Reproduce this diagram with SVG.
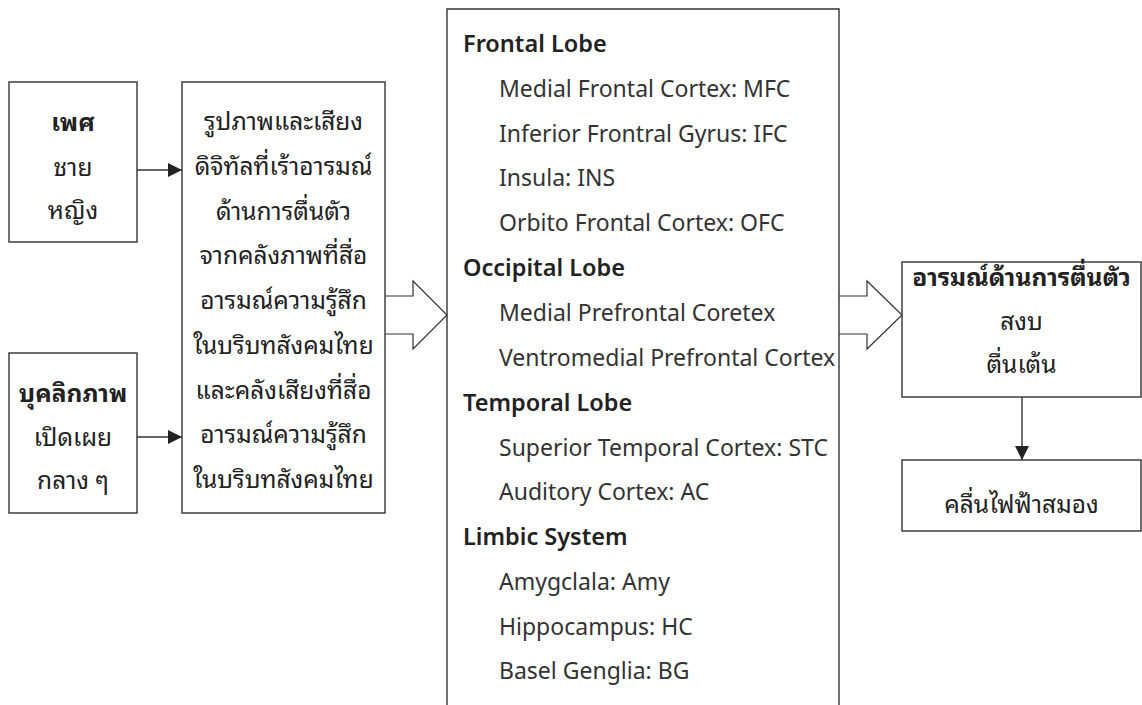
<svg xmlns="http://www.w3.org/2000/svg" width="1142" height="705" viewBox="0 0 1142 705">
  <style>
    .box { fill: #ffffff; stroke: #333333; stroke-width: 1.4; }
    .th { font-family: "Noto Sans Thai Looped", "Noto Sans Thai", "Noto Sans", sans-serif; font-size: 24.5px; fill: #222222; text-anchor: middle; }
    .thb { font-weight: bold; }
    .lobe { font-family: "Noto Sans", "Open Sans", sans-serif; font-size: 23.5px; font-weight: 600; fill: #222222; }
    .item { font-family: "Noto Sans", "Open Sans", sans-serif; font-size: 23px; fill: #333333; }
    .line { stroke: #333333; stroke-width: 1.4; fill: none; }
    .big { fill: #ffffff; stroke: #333333; stroke-width: 1.2; stroke-linejoin: miter; }
  </style>
  <defs>
    <marker id="tri" viewBox="0 0 10 10" refX="10" refY="5" markerWidth="14" markerHeight="14" markerUnits="userSpaceOnUse" orient="auto">
      <path d="M0,0 L10,5 L0,10 Z" fill="#222222"/>
    </marker>
  </defs>

  <rect width="1142" height="705" fill="#ffffff"/>

  <!-- connectors -->
  <g id="connectors">
    <line class="line" x1="137" y1="170" x2="182" y2="170" marker-end="url(#tri)"/>
    <line class="line" x1="137" y1="437" x2="182" y2="437" marker-end="url(#tri)"/>
    <path class="big" d="M385,296 H413 V281 L447,315 L413,349 V334 H385"/>
    <path class="big" d="M839,296 H867 V281 L902,315 L867,349 V334 H839"/>
    <line class="line" x1="1022" y1="397" x2="1022" y2="460" marker-end="url(#tri)"/>
  </g>

  <!-- gender -->
  <g id="node-gender">
    <rect class="box" x="9" y="82" width="128" height="160"/>
    <text class="th thb" x="73" y="131">เพศ</text>
    <text class="th" x="73" y="176">ชาย</text>
    <text class="th" x="73" y="219">หญิง</text>
  </g>

  <!-- personality -->
  <g id="node-personality">
    <rect class="box" x="9" y="353" width="128" height="160"/>
    <text class="th thb" x="73" y="402">บุคลิกภาพ</text>
    <text class="th" x="73" y="446">เปิดเผย</text>
    <text class="th" x="73" y="489">กลาง ๆ</text>
  </g>

  <!-- stimuli -->
  <g id="node-stimuli">
    <rect class="box" x="182" y="82" width="203" height="431"/>
    <text class="th" x="283.5" y="130">รูปภาพและเสียง</text>
    <text class="th" x="283.5" y="174.75">ดิจิทัลที่เร้าอารมณ์</text>
    <text class="th" x="283.5" y="219.5">ด้านการตื่นตัว</text>
    <text class="th" x="283.5" y="264.25">จากคลังภาพที่สื่อ</text>
    <text class="th" x="283.5" y="309">อารมณ์ความรู้สึก</text>
    <text class="th" x="283.5" y="353.75">ในบริบทสังคมไทย</text>
    <text class="th" x="283.5" y="398.5">และคลังเสียงที่สื่อ</text>
    <text class="th" x="283.5" y="443.25">อารมณ์ความรู้สึก</text>
    <text class="th" x="283.5" y="488">ในบริบทสังคมไทย</text>
  </g>

  <!-- brain regions (open at the bottom) -->
  <g id="node-brain">
    <path class="line" d="M447,706 V9 H839 V706"/>
    <text class="lobe" x="463" y="52">Frontal Lobe</text>
    <text class="item" x="499" y="97">Medial Frontal Cortex: MFC</text>
    <text class="item" x="499" y="142">Inferior Frontral Gyrus: IFC</text>
    <text class="item" x="499" y="186">Insula: INS</text>
    <text class="item" x="499" y="231">Orbito Frontal Cortex: OFC</text>
    <text class="lobe" x="463" y="276">Occipital Lobe</text>
    <text class="item" x="499" y="321">Medial Prefrontal Coretex</text>
    <text class="item" x="499" y="366">Ventromedial Prefrontal Cortex</text>
    <text class="lobe" x="463" y="411">Temporal Lobe</text>
    <text class="item" x="499" y="456">Superior Temporal Cortex: STC</text>
    <text class="item" x="499" y="500">Auditory Cortex: AC</text>
    <text class="lobe" x="463" y="545">Limbic System</text>
    <text class="item" x="499" y="590">Amygclala: Amy</text>
    <text class="item" x="499" y="635">Hippocampus: HC</text>
    <text class="item" x="499" y="679">Basel Genglia: BG</text>
  </g>

  <!-- arousal emotion -->
  <g id="node-arousal">
    <rect class="box" x="902" y="262" width="239" height="135"/>
    <text class="th thb" x="1021.5" y="286">อารมณ์ด้านการตื่นตัว</text>
    <text class="th" x="1021.5" y="330">สงบ</text>
    <text class="th" x="1021.5" y="373">ตื่นเต้น</text>
  </g>

  <!-- EEG -->
  <g id="node-eeg">
    <rect class="box" x="902" y="460" width="239" height="71"/>
    <text class="th" x="1021.5" y="513">คลื่นไฟฟ้าสมอง</text>
  </g>
</svg>
